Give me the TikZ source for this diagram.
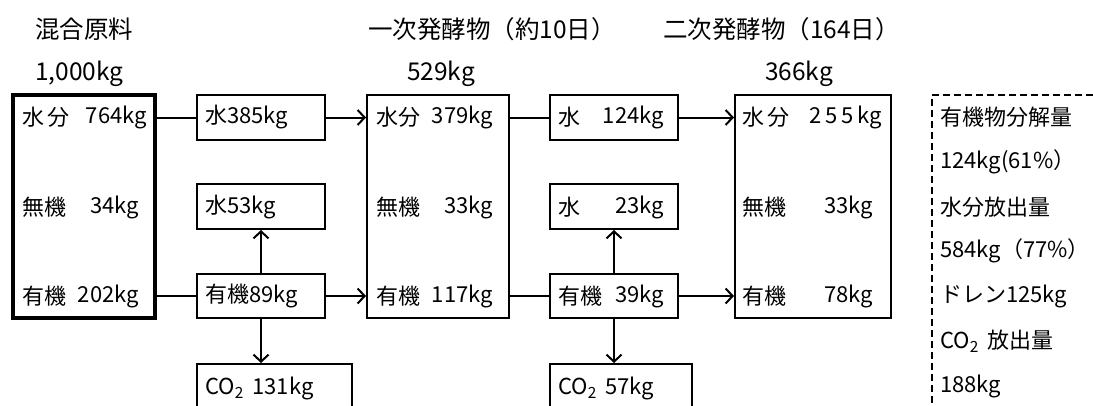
\documentclass[tikz,border=0pt]{standalone}
\usepackage{fontspec}
\setmainfont{Noto Sans CJK JP}
\usetikzlibrary{arrows.meta}
\begin{document}
\begin{tikzpicture}[x=1pt,y=-1pt,
  bx/.style={draw, line width=2pt, inner sep=0pt},
  thickbx/.style={draw, line width=3.8pt, inner sep=0pt},
  lab/.style={anchor=west, inner sep=0pt, font=\fontsize{22}{22}\selectfont},
  val/.style={anchor=east, inner sep=0pt, font=\fontsize{22}{22}\selectfont},
  head/.style={anchor=west, inner sep=0pt, font=\fontsize{24.5}{24.5}\selectfont},
  ln/.style={line width=2pt},
  arr/.style={line width=2pt, -{Straight Barb[length=7pt,width=15pt,line width=2pt]}},
  dsh/.style={line width=2pt, dash pattern=on 7pt off 4pt}]
\clip (0,0) rectangle (1093,405);
\fill[white] (0,0) rectangle (1093,405);
% headings
\node[head] (h1) at (35,29) {混合原料};
\node[head] (m1) at (35,74) {1,000kg};
\node[head] (h2) at (368,29) {一次発酵物（約10日）};
\node[head] (m2) at (407,74) {529kg};
\node[head] (h3) at (663,29) {二次発酵物（164日）};
\node[head] (m3) at (765,74) {366kg};
% big boxes
\node[thickbx, minimum width=142pt, minimum height=223pt] (A) at (84,206.5) {};
\node[bx, minimum width=142pt, minimum height=223pt] (B) at (438,206.5) {};
\node[bx, minimum width=156pt, minimum height=223pt] (C) at (813,206.5) {};
% small boxes col 1
\node[bx, minimum width=128pt, minimum height=45pt] (w1) at (261,117.5) {};
\node[bx, minimum width=128pt, minimum height=45pt] (d1) at (261,206.5) {};
\node[bx, minimum width=128pt, minimum height=44pt] (o1) at (261,296) {};
\node[bx, minimum width=155pt, minimum height=56pt] (c1) at (274.5,392) {};
% small boxes col 2
\node[bx, minimum width=128pt, minimum height=45pt] (w2) at (614,117.5) {};
\node[bx, minimum width=128pt, minimum height=45pt] (d2) at (614,206.5) {};
\node[bx, minimum width=128pt, minimum height=44pt] (o2) at (614,296) {};
\node[bx, minimum width=142pt, minimum height=56pt] (c2) at (621,392) {};
% texts big box A
\node[lab] (a1) at (22,117) {水\,分};
\node[val] (a1v) at (147,117) {764kg};
\node[lab] (a2) at (22,207) {無機};
\node[val] (a2v) at (139,207) {34kg};
\node[lab] (a3) at (22,296) {有機};
\node[val] (a3v) at (139,296) {202kg};
% texts col1
\node[lab] (w1t) at (205,117) {水385kg};
\node[lab] (d1t) at (205,207) {水53kg};
\node[lab] (o1t) at (205,296) {有機89kg};
\node[lab] (c1t) at (205,388) {CO\textsubscript{2}\ \,131kg};
% texts box B
\node[lab] (b1) at (376,117) {水分};
\node[val] (b1v) at (493,117) {379kg};
\node[lab] (b2) at (376,207) {無機};
\node[val] (b2v) at (493,207) {33kg};
\node[lab] (b3) at (376,296) {有機};
\node[val] (b3v) at (493,296) {117kg};
% texts col2
\node[lab] (w2t) at (558,117) {水};
\node[val] (w2v) at (664,117) {124kg};
\node[lab] (d2t) at (558,207) {水};
\node[val] (d2v) at (664,207) {23kg};
\node[lab] (o2t) at (558,296) {有機};
\node[val] (o2v) at (664,296) {39kg};
\node[lab] (c2t) at (558,388) {CO\textsubscript{2}\ \,57kg};
% texts box C
\node[lab] (e1) at (742,117) {水\,分};
\node[val] (e1v) at (882,117) {2\,5\,5\,kg};
\node[lab] (e2) at (742,207) {無機};
\node[val] (e2v) at (873,207) {33kg};
\node[lab] (e3) at (742,296) {有機};
\node[val] (e3v) at (873,296) {78kg};
% dashed summary
\draw[dsh] (1093,95) -- (932,95) -- (932,405);
\node[lab] (s1) at (940,117) {有機物分解量};
\node[lab] (s2) at (940,162) {124kg(61\%）};
\node[lab] (s3) at (940,207) {水分放出量};
\node[lab] (s4) at (940,251) {584kg（77\%）};
\node[lab] (s5) at (940,296) {ドレン125kg};
\node[lab] (s6) at (940,341) {CO\textsubscript{2}\ \,放出量};
\node[lab] (s7) at (940,386) {188kg};
% connectors
\draw[ln] (A.east |- w1.west) -- (w1.west);
\draw[arr] (w1.east) -- (B.west |- w1.east);
\draw[ln] (A.east |- o1.west) -- (o1.west);
\draw[arr] (o1.east) -- (B.west |- o1.east);
\draw[arr] (o1.north) -- (d1.south);
\draw[arr] (o1.south) -- (o1.south |- c1.north);
\draw[ln] (B.east |- w2.west) -- (w2.west);
\draw[arr] (w2.east) -- (C.west |- w2.east);
\draw[ln] (B.east |- o2.west) -- (o2.west);
\draw[arr] (o2.east) -- (C.west |- o2.east);
\draw[arr] (o2.north) -- (d2.south);
\draw[arr] (o2.south) -- (o2.south |- c2.north);
\end{tikzpicture}
\end{document}
